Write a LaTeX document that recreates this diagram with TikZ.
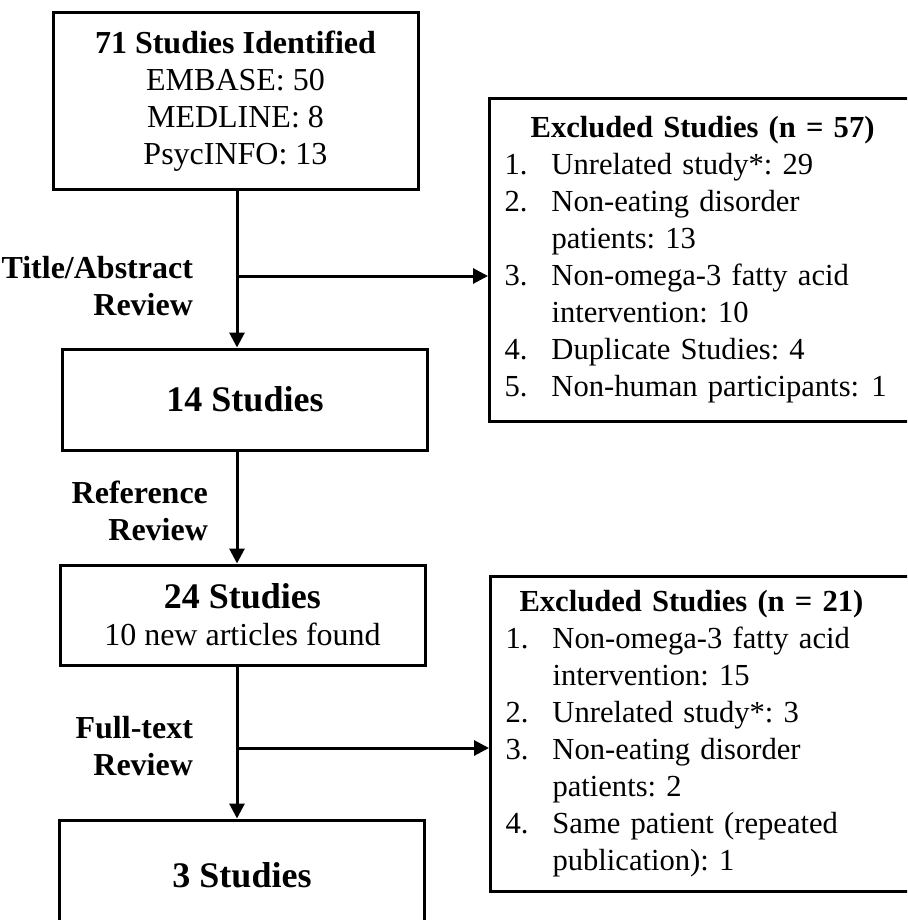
\documentclass[tikz,border=0pt]{standalone}
\usepackage{fontspec}
\setmainfont{Liberation Serif}
\usepackage{tikz}
\usetikzlibrary{arrows.meta}
\frenchspacing
\newcommand{\bodyfont}{\fontsize{16}{18.5}\selectfont}
\newcommand{\listfont}{\fontsize{15.3}{18.5}\selectfont}
\tikzset{
  >={Triangle[length=7.5pt,width=7.5pt]},
  stage/.style={draw,line width=1.5pt,minimum width=182.5pt,align=center,font=\bodyfont},
  big/.style={font=\fontsize{18}{19.5}\selectfont\bfseries},
  excl/.style={draw,line width=1.5pt,anchor=north west,text width=201pt,inner xsep=7.5pt,
    align=left,font=\listfont},
  flow/.style={->,line width=1.5pt},
  tag/.style={anchor=east,align=right,font=\bodyfont\bfseries},
}

\begin{document}
\begin{tikzpicture}[x=0.5pt,y=-0.5pt]
  \useasboundingbox[fill=white] (0,0) rectangle (907,920);
  \clip (0,0) rectangle (907,920);
  % main column
  \node[stage,minimum height=88pt] (id) at (235.5,101)
    {\textbf{71 Studies Identified}\\EMBASE: 50\\MEDLINE: 8\\PsycINFO: 13};
  \node[stage,big,minimum height=50.5pt] (s14) at (245,399.5) {14 Studies};
  \node[stage,minimum height=50pt] (s24) at (242.5,615)
    {{\fontsize{18}{19.5}\selectfont\bfseries 24 Studies}\\10 new articles found};
  \node[stage,big,minimum height=55pt] (s3) at (242,875) {3 Studies};
  % exclusions
  \node[excl,minimum height=161.5pt] (ex1) at (488,97) {%
    \begin{tabular}{@{}p{23.5pt}@{}l@{}}
    \multicolumn{2}{@{\hspace{7pt}}c@{}}{\textbf{Excluded Studies (n = 57)}}\\
    1. & Unrelated study*: 29\\
    2. & Non-eating disorder\\
       & patients: 13\\
    3. & Non-omega-3 fatty acid\\
       & intervention: 10\\
    4. & Duplicate Studies: 4\\
    5. & Non-human participants:\hspace{0.4em}1
    \end{tabular}};
  \node[excl,minimum height=157.5pt] (ex2) at (489,575) {%
    \begin{tabular}{@{}p{23.5pt}@{}l@{}}
    \multicolumn{2}{@{\hspace{7pt}}c@{}}{\textbf{Excluded Studies (n = 21)}}\\
    1. & Non-omega-3 fatty acid\\
       & intervention: 15\\
    2. & Unrelated study*: 3\\
    3. & Non-eating disorder\\
       & patients: 2\\
    4. & Same patient (repeated\\
       & publication): 1
    \end{tabular}};
  % review steps
  \coordinate (tr) at (237,0);
  \coordinate (b1) at (237,276);
  \coordinate (b2) at (237,748);
  \draw[flow] (id.south -| tr) -- (s14.north -| tr);
  \draw[flow] (s14.south -| tr) -- (s24.north -| tr);
  \draw[flow] (s24.south -| tr) -- (s3.north -| tr);
  \draw[flow] (b1) -- (b1 -| ex1.west);
  \draw[flow] (b2) -- (b2 -| ex2.west);
  \node[tag] (t1) at (200,286) {Title/Abstract\\Review};
  \node[tag] (t2) at (215,511) {Reference\\Review};
  \node[tag] (t3) at (200,746) {Full-text\\Review};
\end{tikzpicture}
\end{document}
